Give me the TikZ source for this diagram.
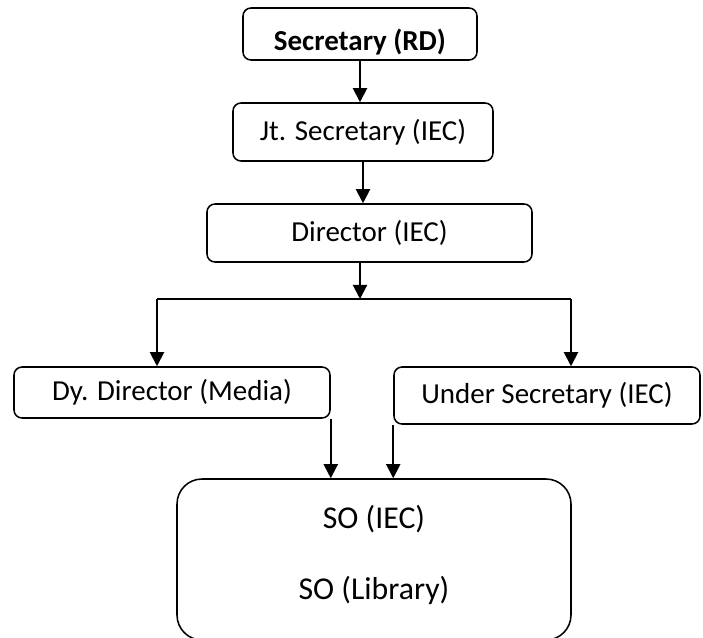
\documentclass[tikz,border=0pt]{standalone}
\usepackage{fontspec}
\setmainfont{Carlito}
\usetikzlibrary{arrows.meta}

\begin{document}
\begin{tikzpicture}[
  boks/.style={draw, line width=1.1pt, rounded corners=0.2cm, inner sep=0pt,
    font=\fontsize{20.6}{24.7}\selectfont},
  pil/.style={line width=1.4pt, -{Triangle[length=10pt,width=10pt]}}]
\useasboundingbox (0,0) rectangle (17.575,-15.925);
%bokse
\node[boks, minimum width=5.85cm, minimum height=1.3cm, text height=0.8cm, text depth=0pt,
  font=\fontsize{20.6}{24.7}\selectfont\bfseries] (sec) at (9.0,-0.85) {Secretary (RD)};
\node[boks, minimum width=6.5cm, minimum height=1.45cm] (jt) at (9.075,-3.3) {Jt. Secretary (IEC)};
\node[boks, minimum width=8.125cm, minimum height=1.45cm] (dir) at (9.2375,-5.825) {Director (IEC)};
\node[boks, minimum width=7.9cm, minimum height=1.275cm] (dv) at (4.3,-9.8125) {Dy. Director (Media)};
\node[boks, minimum width=7.65cm, minimum height=1.425cm] (us) at (13.675,-9.8875) {Under Secretary (IEC)};
\node[boks, rounded corners=0.625cm, minimum width=9.85cm, minimum height=4.025cm, align=center,
  font=\fontsize{22.6}{27}\selectfont, text depth=0.35cm]
  (so) at (9.35,-13.9875) {SO (IEC)\\[24pt]SO (Library)};
%forgrening
\coordinate (split) at (9.0,-7.475);
\coordinate (bl) at (3.925,-7.475);
\coordinate (br) at (14.275,-7.475);
%pile
\draw[pil] (sec.south) -- (sec.south |- jt.north);
\draw[pil] (jt.south) -- (jt.south |- dir.north);
\draw[pil] (split |- dir.south) -- (split);
\draw[line width=1.4pt] (bl) -- (br);
\draw[pil] (bl) -- (bl |- dv.north);
\draw[pil] (br) -- (br |- us.north);
\draw[pil] (dv.south east) -- (dv.south east |- so.north);
\draw[pil] (us.south west) -- (us.south west |- so.north);
\end{tikzpicture}
\end{document}
